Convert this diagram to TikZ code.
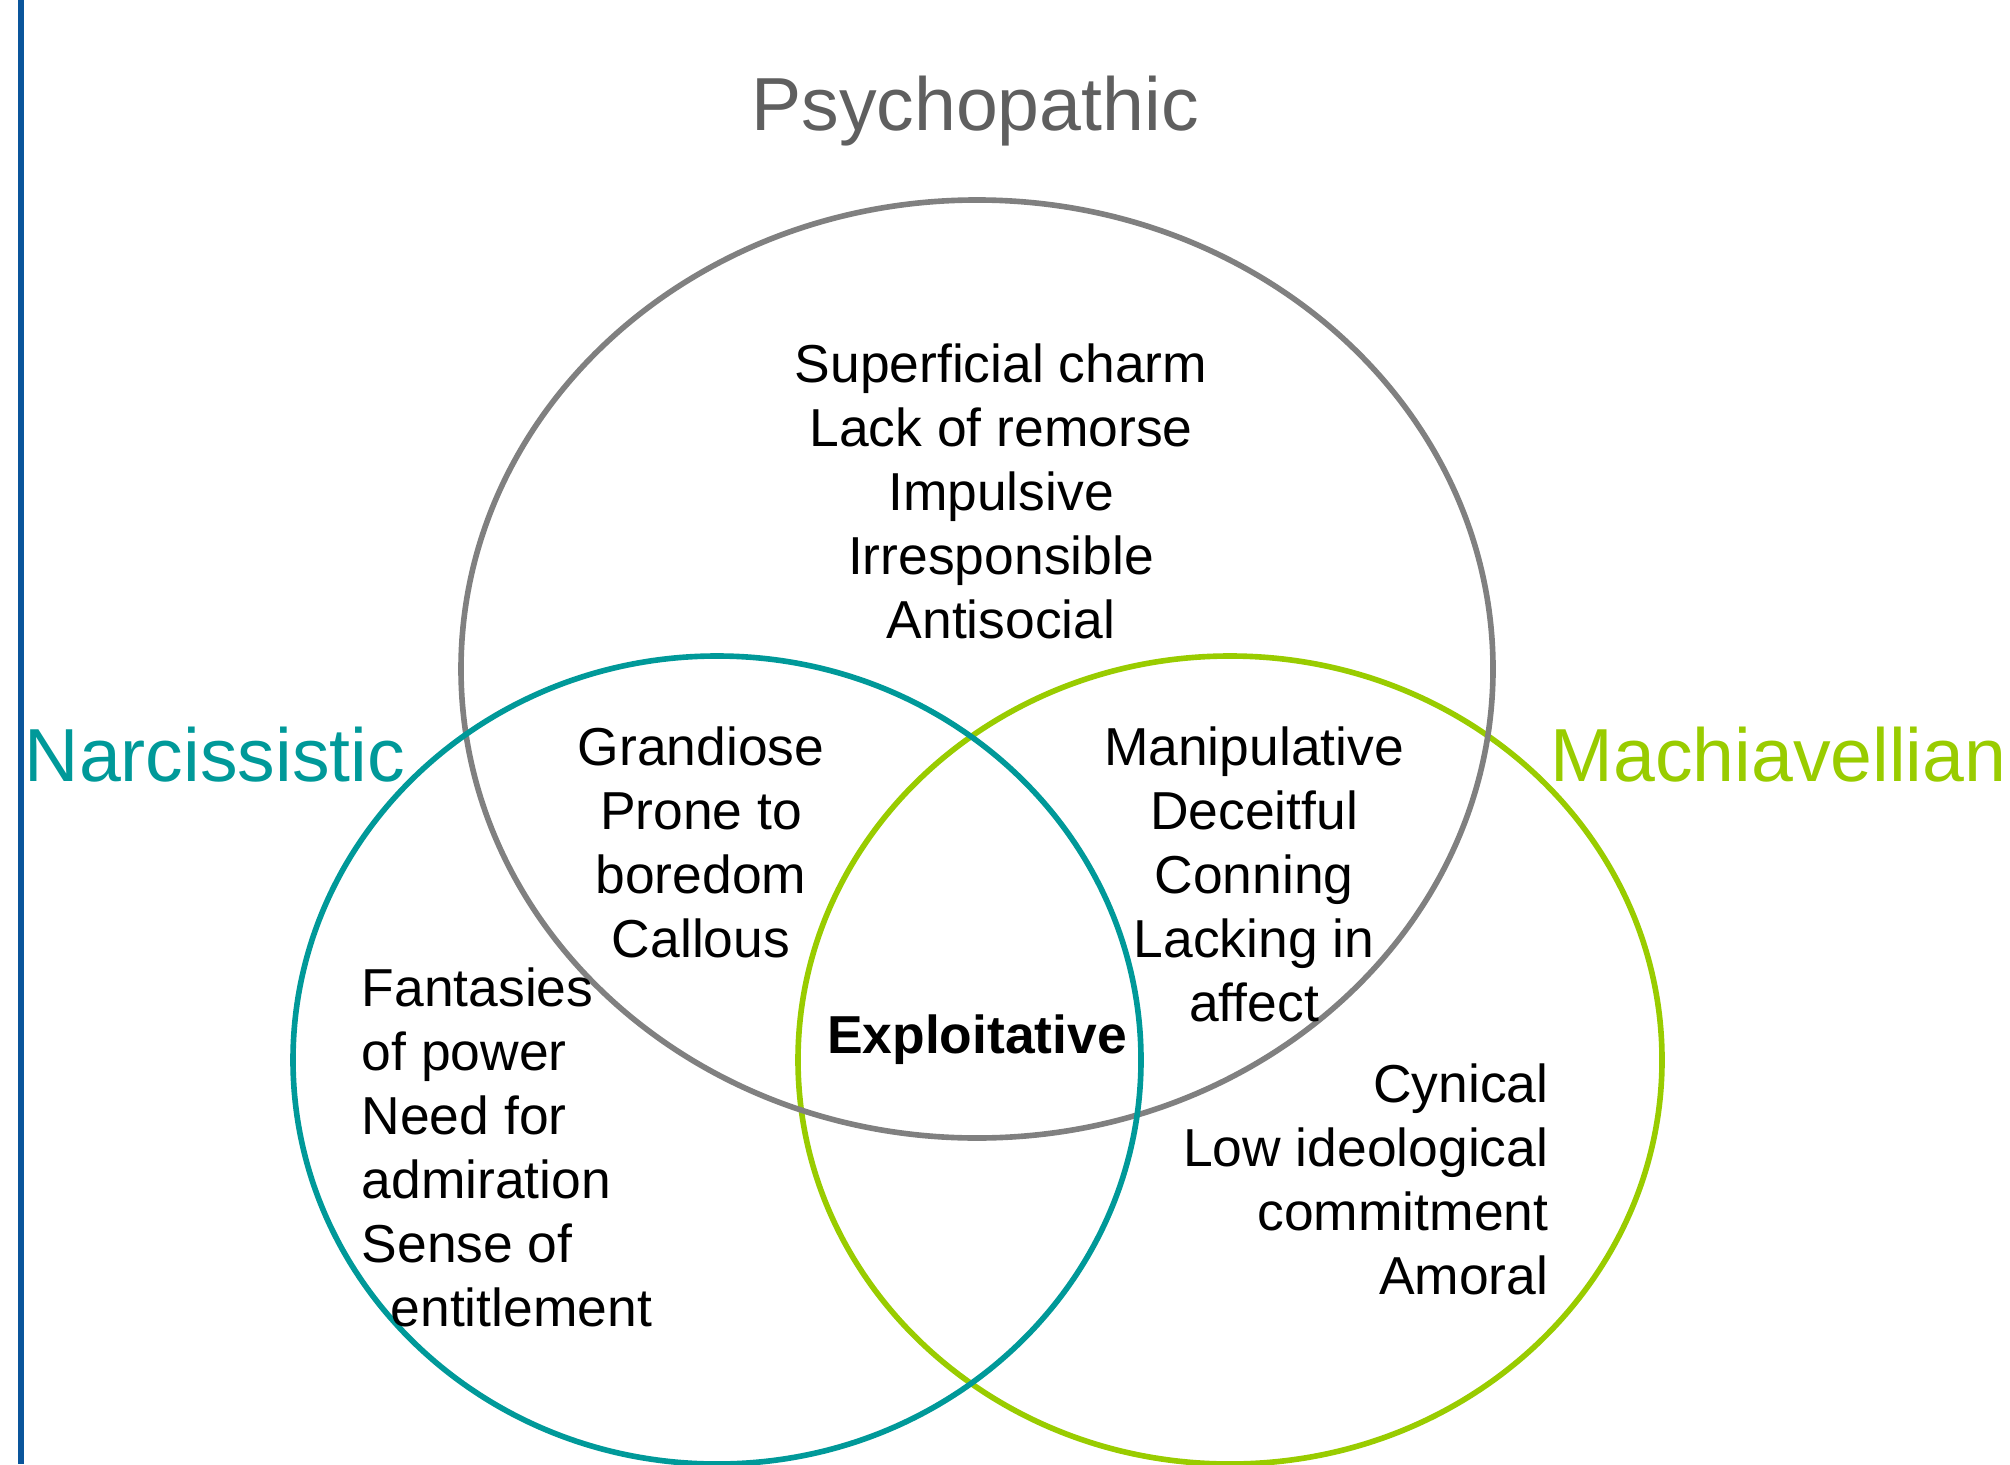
\documentclass[tikz,border=0pt]{standalone}
\usepackage{fontspec}
\setmainfont{Liberation Sans}

\definecolor{psygray}{RGB}{128,128,128}
\definecolor{psytitle}{RGB}{95,95,95}
\definecolor{narteal}{RGB}{0,153,153}
\definecolor{machgreen}{RGB}{153,204,0}
\definecolor{edgeblue}{RGB}{10,85,155}

\begin{document}
\begin{tikzpicture}[
    ring/.style={line width=1.6pt},
    title/.style={font=\fontsize{21.4}{25}\selectfont, inner sep=0pt},
    trait/.style={font=\fontsize{15.2}{18.2}\selectfont, inner sep=0pt}
]

        % Page and side rule
        \useasboundingbox (0,0) rectangle (20.1,-14.64);
        \draw[edgeblue, line width=1.5pt] (0.21,0) -- (0.21,-14.64);

        % Circles
        \draw[ring, machgreen] (12.30,-10.60) ellipse [x radius=4.32cm, y radius=4.04cm];
        \draw[ring, psygray] (9.77,-6.69) ellipse [x radius=5.16cm, y radius=4.69cm];
        \draw[ring, narteal] (7.17,-10.60) ellipse [x radius=4.24cm, y radius=4.04cm];

        % Set names
        \node[title, text=psytitle, anchor=base] (psy) at (9.75,-1.31) {Psychopathic};
        \node[title, text=narteal, anchor=base west] (nar) at (0.24,-7.81) {Narcissistic};
        \node[title, text=machgreen, anchor=base west] (mach) at (15.50,-7.81) {Machiavellian};

        % Traits (base = last line)
        \node[trait, align=center, anchor=base] (psytraits) at (10.01,-6.38)
            {Superficial charm\\Lack of remorse\\Impulsive\\Irresponsible\\Antisocial};
        \node[trait, align=center, anchor=base] (narpsy) at (7.01,-9.57)
            {Grandiose\\Prone to\\boredom\\Callous};
        \node[trait, align=center, anchor=base] (psymach) at (12.54,-10.21)
            {Manipulative\\Deceitful\\Conning\\Lacking in\\affect};
        \node[trait, align=left, anchor=base west] (nartraits) at (3.61,-13.26)
            {Fantasies\\of power\\Need for\\admiration\\Sense of\\\hspace*{0.29cm}entitlement};
        \node[trait, align=right, anchor=base east] (machtraits) at (15.49,-12.94)
            {Cynical\\Low ideological\\commitment\\Amoral};

        % Centre
        \node[trait, font=\fontsize{15.2}{18.2}\selectfont\bfseries, anchor=base] (core) at (9.77,-10.53) {Exploitative};

\end{tikzpicture}
\end{document}
